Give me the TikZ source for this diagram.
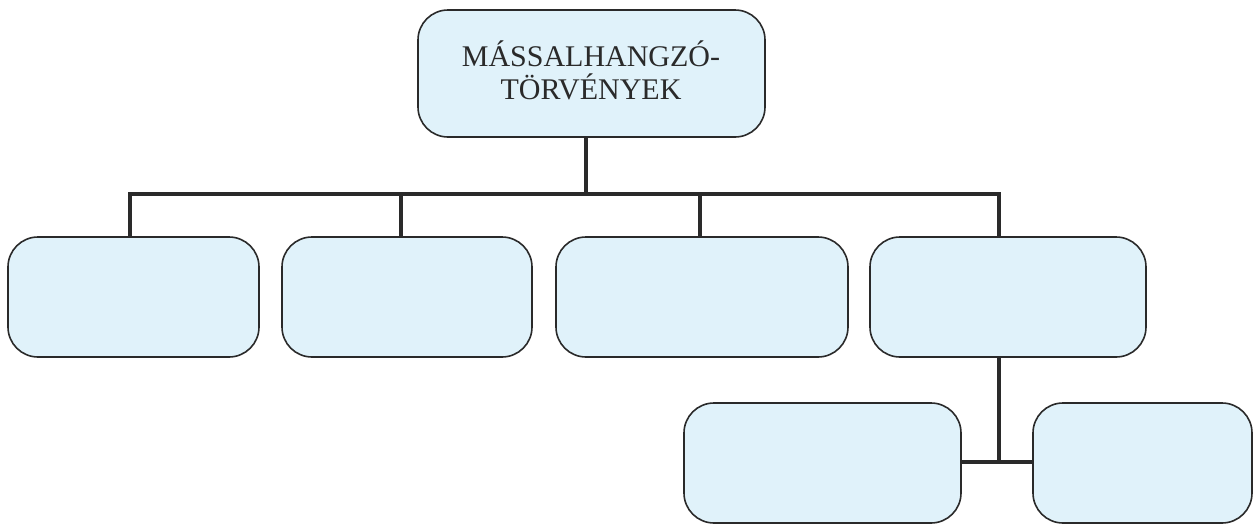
\documentclass[tikz,border=0pt]{standalone}
\usepackage{fontspec}
\setmainfont{Liberation Serif}
\definecolor{boxfill}{HTML}{E0F2FA}
\definecolor{boxline}{HTML}{2A2A2A}
\begin{document}
\begin{tikzpicture}[x=1pt,y=-1pt,
  box/.style={draw=boxline,fill=boxfill,line width=1.6pt,rounded corners=30pt},
  conn/.style={draw=boxline,line width=3.2pt}]
\useasboundingbox (0,0) rectangle (1254,525);
% boxes
\path[box] (418,10) rectangle (765,137);
\node[font=\fontsize{30}{33}\selectfont,text=boxline,align=center] (title) at (591,70) {MÁSSALHANGZÓ-\\TÖRVÉNYEK};
\coordinate (top) at (586,137);
\path[box] (8,237) rectangle (259,357);
\path[box] (282,237) rectangle (532,357);
\path[box] (556,237) rectangle (848,357);
\path[box] (870,237) rectangle (1146,357);
\path[box] (684,403) rectangle (961,523);
\path[box] (1033,403) rectangle (1252,523);
\coordinate (b1) at (130,237);
\coordinate (b2) at (401,237);
\coordinate (b3) at (700,237);
\coordinate (b4) at (999,237);
\coordinate (b4s) at (999,357);
\coordinate (b5) at (961,462);
\coordinate (b6) at (1033,462);
\coordinate (j) at (999,462);
% connectors
\draw[conn] (top) -- (586,194);
\draw[conn,line cap=rect] (130,194) -- (999,194);
\draw[conn] (130,194) -- (b1);
\draw[conn] (401,194) -- (b2);
\draw[conn] (700,194) -- (b3);
\draw[conn] (999,194) -- (b4);
\draw[conn] (b4s) -- (j);
\draw[conn] (b5) -- (b6);
\end{tikzpicture}
\end{document}
